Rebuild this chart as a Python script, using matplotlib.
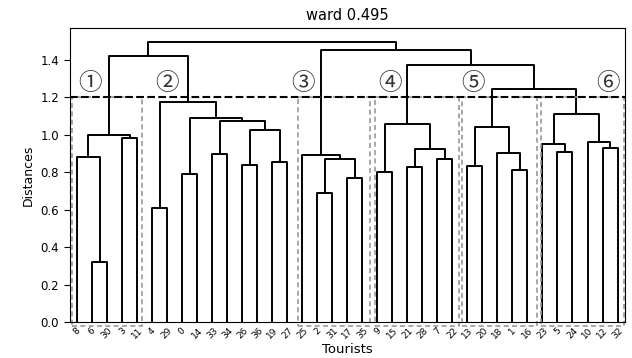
import matplotlib
matplotlib.use('Agg')
import matplotlib.pyplot as plt
from matplotlib.patches import Rectangle

# ---------------- data ----------------
leaf_labels = ['8', '6', '30', '3', '11', '4', '29', '0', '14', '33', '34', '26', '36', '19', '27',
               '25', '2', '31', '17', '35', '9', '15', '21', '28', '7', '22', '13', '20', '18', '1',
               '16', '23', '5', '24', '10', '12', '32']

# linkage: node ids < 37 are leaf positions (display order); id 37+k is the k-th merge
merge_left = [1, 0, 3, 38, 5, 7, 9, 11, 13, 44, 43, 42, 41, 40,
              16, 18, 51, 15, 20, 22, 24, 56, 55, 26, 29, 28, 60,
              32, 31, 35, 34, 65, 63, 59, 54, 50]
merge_right = [2, 37, 4, 39, 6, 8, 10, 12, 14, 45, 46, 47, 48, 49,
               17, 19, 52, 53, 21, 23, 25, 57, 58, 27, 30, 61, 62,
               33, 64, 36, 66, 67, 68, 69, 70, 71]
merge_height = [0.32, 0.88, 0.985, 1.00, 0.61, 0.79, 0.90, 0.837, 0.857, 1.027, 1.075, 1.09, 1.178, 1.42,
                0.69, 0.77, 0.87, 0.895, 0.80, 0.827, 0.87, 0.924, 1.06, 0.835, 0.814, 0.903, 1.043,
                0.91, 0.951, 0.93, 0.96, 1.11, 1.243, 1.376, 1.451, 1.497]

cut_height = 1.2
cluster_names = ['①', '②', '③', '④', '⑤', '⑥']
title = 'ward 0.495'

# ---------------- layout (annotation placement) ----------------
name_x = [13.7, 65, 155.7, 213.7, 269, 359]
name_y = 1.275
box_spans = [(1.7, 48.3), (151.9, 200.3), (203.7, 259.5), (261.7, 311.5), (313.7, 369.2)]
box_bottom = -0.02

fig = plt.figure(figsize=(6.32, 3.58), dpi=100)
ax = fig.add_axes([0.110, 0.1006, 0.879, 0.8215])

n = len(leaf_labels)
xs = [10 * i + 5 for i in range(n)]
hs = [0.0] * n
for l, r, h in zip(merge_left, merge_right, merge_height):
    xl, xr = xs[l], xs[r]
    hl, hr = hs[l], hs[r]
    ax.plot([xl, xl, xr, xr], [hl, h, h, hr], color='black', lw=1.4, solid_capstyle='butt')
    xs.append((xl + xr) / 2)
    hs.append(h)

# cut line
ax.axhline(cut_height, color='black', ls='--', lw=1.5, zorder=3)

# cluster boxes
for x0, x1 in box_spans:
    ax.add_patch(Rectangle((x0, box_bottom), x1 - x0, cut_height - box_bottom, fill=False,
                           ec='#9a9a9a', ls=(0, (3, 2)), lw=1.2, clip_on=False, zorder=2))

for nm, x in zip(cluster_names, name_x):
    ax.text(x, name_y, nm, fontsize=17, ha='center', va='center', color='#333333',
            family=['Noto Sans CJK JP', 'DejaVu Sans'])

ax.set_xlim(0, 10 * n)
ax.set_ylim(0, 1.05 * max(merge_height))
ax.set_xticks(xs[:n])
ax.set_xticklabels(leaf_labels, rotation=45, fontsize=6.5, ha='center')
ax.tick_params(axis='x', length=0, pad=3)
ax.set_yticks([0.0, 0.2, 0.4, 0.6, 0.8, 1.0, 1.2, 1.4])
ax.set_yticklabels(['0.0', '0.2', '0.4', '0.6', '0.8', '1.0', '1.2', '1.4'])
ax.tick_params(axis='y', labelsize=8.5, length=4)
ax.set_ylabel('Distances', fontsize=9)
ax.set_xlabel('Tourists', fontsize=9.5, labelpad=2)
ax.set_title(title, fontsize=10.5, pad=6)

fig.savefig('out.png', dpi=100)
